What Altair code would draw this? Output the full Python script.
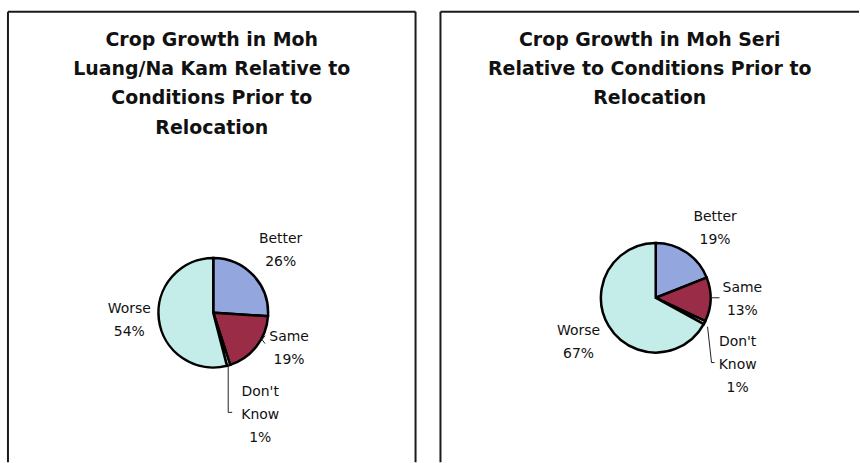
import altair as alt
import pandas as pd

categories = ["Better", "Same", "Don't Know", "Worse"]
label_lines = ["Better", "Same", "Don't\nKnow", "Worse"]
moh_luang_pct = [26, 19, 1, 54]
moh_seri_pct = [19, 13, 1, 67]
colors = ["#93a6de", "#9a2c48", "#f3f1cf", "#c4ece9"]
title_left = "Crop Growth in Moh\nLuang/Na Kam Relative to\nConditions Prior to\nRelocation"
title_right = "Crop Growth in Moh Seri\nRelative to Conditions Prior to\nRelocation"

LABEL_FONT = "DejaVu Sans"
TITLE_FONT = "DejaVu Sans"
R = 55  # pie radius, px


def panel(vals, title, w, h, cx, cy, nudges, leaders, edges):
    df = pd.DataFrame({"cat": categories, "lab": label_lines, "pct": vals,
                       "ord": list(range(len(categories)))})
    base = alt.Chart(df).encode(
        theta=alt.Theta("pct:Q", stack=True),
        order=alt.Order("ord:Q"),
        x=alt.value(cx),
        y=alt.value(cy),
    )
    arcs = base.mark_arc(outerRadius=R, stroke="black", strokeWidth=2.5).encode(
        color=alt.Color("cat:N", scale=alt.Scale(domain=categories, range=colors), legend=None)
    )
    layers = []
    for cat in categories:
        ddx, ddy = nudges[cat]
        layers.append(
            base.mark_text(radius=90, dx=ddx, dy=ddy, fontSize=14, lineHeight=23,
                           font=LABEL_FONT, lineBreak="\n", color="#111",
                           align="center", baseline="middle").encode(
                text="txt:N"
            ).transform_calculate(
                txt="datum.cat == '%s' ? datum.lab + '\\n' + datum.pct + '%%' : ''"
                % cat.replace("'", "\\'")
            )
        )
    one = pd.DataFrame({"t": [title]})
    ttl = alt.Chart(one).mark_text(fontSize=19, font=TITLE_FONT, fontWeight="bold",
                                   lineBreak="\n", lineHeight=29.5, baseline="top",
                                   align="center", color="#111").encode(
        text="t:N", x=alt.value(w / 2), y=alt.value(19)
    )
    frame = [
        alt.Chart(one).mark_rule(color="#1a1a1a", strokeWidth=2).encode(
            x=alt.value(x1), y=alt.value(y1), x2=alt.value(x2), y2=alt.value(y2)
        )
        for (x1, y1, x2, y2) in edges
    ]
    lead = [
        alt.Chart(one).mark_rule(color="#222", strokeWidth=1).encode(
            x=alt.value(x1), y=alt.value(y1), x2=alt.value(x2), y2=alt.value(y2)
        )
        for (x1, y1, x2, y2) in leaders
    ]
    return alt.layer(*frame, arcs, *layers, ttl, *lead).properties(width=w, height=h)


left = panel(
    moh_luang_pct, title_left, 409, 452, 206, 302,
    {"Better": (2, -12.5), "Same": (5, -30.5), "Don't Know": (22, -7), "Worse": (5, -14.5)},
    [(221, 356, 221, 402), (221, 402, 225, 402), (255, 329, 258, 325), (255, 329, 258, 333)],
    [(0, 0, 0, 452), (0, 0, 409, 0), (409, 0, 409, 452)],
)
right = panel(
    moh_seri_pct, title_right, 420, 452, 216, 287,
    {"Better": (9, -6.5), "Same": (-3, -12.5), "Don't Know": (2, 4), "Worse": (0, -12)},
    [(272, 287, 280, 287), (268, 316, 272, 352), (272, 352, 275, 352)],
    [(0, 0, 0, 452), (0, 0, 420, 0)],
)

chart = alt.hconcat(left, right, spacing=23).configure_view(
    stroke=None
).properties(
    padding={"left": 7, "top": 10, "right": 0, "bottom": 0},
    background="white",
)

chart.save("out.html", embed_options={"renderer": "svg", "actions": False})
